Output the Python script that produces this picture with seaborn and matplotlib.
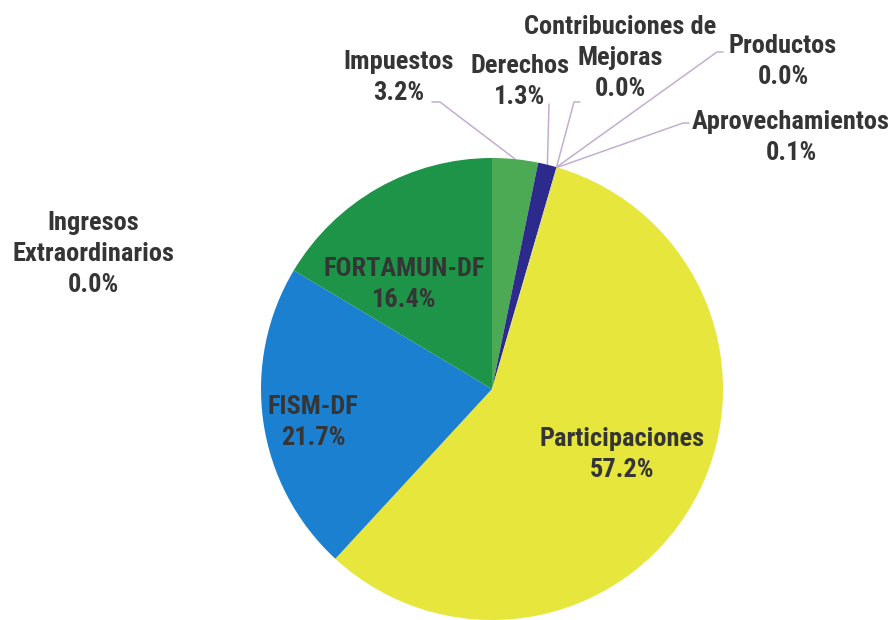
import numpy as np
import matplotlib
matplotlib.use("Agg")
import matplotlib.pyplot as plt
import seaborn as sns

# data (clockwise from 12 o'clock)
categories = ['Impuestos', 'Derechos', 'Contribuciones de\nMejoras', 'Productos',
              'Aprovechamientos', 'Participaciones', 'FISM-DF', 'FORTAMUN-DF',
              'Ingresos\nExtraordinarios']
shares = [3.2, 1.3, 0.0, 0.0, 0.1, 57.2, 21.7, 16.4, 0.0]
colors = ['#4caa55', '#2c2a8c', '#8a7bc0', '#b9a0d0', '#d8d860',
          '#e6e63c', '#1b80d0', '#1e9448', '#7fbf7f']

sns.set_theme(style="white")
plt.rcParams['font.family'] = ['Liberation Sans Narrow', 'Roboto Condensed', 'DejaVu Sans']

W, H = 894, 620
fig = plt.figure(figsize=(W / 100, H / 100), dpi=100)
ax = fig.add_axes([0, 0, 1, 1])

cx, cy, r = 492, H - 389, 231
wedges, _ = ax.pie(shares, colors=colors, startangle=90, counterclock=False,
                   center=(cx, cy), radius=r, wedgeprops=dict(linewidth=0))
ax.set_xlim(0, W)
ax.set_ylim(0, H)
ax.set_aspect('equal')
ax.axis('off')

# label x centre and first-line y (pixels from top-left), leader-line start
label_pos = {
    0: ((399, 62), [(432, 102), (440, 102)]),
    1: ((520, 66), [(549, 104)]),
    2: ((620, 27), [(580, 102), (574, 102)]),
    3: ((783, 46), [(723, 52), (717, 52)]),
    4: ((791, 122), [(689, 123), (683, 123)]),
    5: ((622, 439), None),
    6: ((313, 407), None),
    7: ((404, 269), None),
    8: ((93, 223), None),
}
line_gap = 31

txt_kw = dict(ha='center', va='center', fontsize=19, fontweight='bold',
              fontstretch='condensed', color='#353535')
line_col = '#c4aed0'

for i, (cat, val) in enumerate(zip(categories, shares)):
    (lx, ly), line = label_pos[i]
    rows = cat.split('\n') + [f"{val:.1f}%"]
    for k, row in enumerate(rows):
        ax.text(lx, H - (ly + k * line_gap), row, **txt_kw)
    if line:
        w = wedges[i]
        mid = np.deg2rad((w.theta1 + w.theta2) / 2)
        ex, ey = cx + r * np.cos(mid), cy + r * np.sin(mid)
        xs = [p[0] for p in line] + [ex]
        ys = [H - p[1] for p in line] + [ey]
        ax.plot(xs, ys, color=line_col, lw=1.1, zorder=0.5)

plt.savefig('out.png', dpi=100)
